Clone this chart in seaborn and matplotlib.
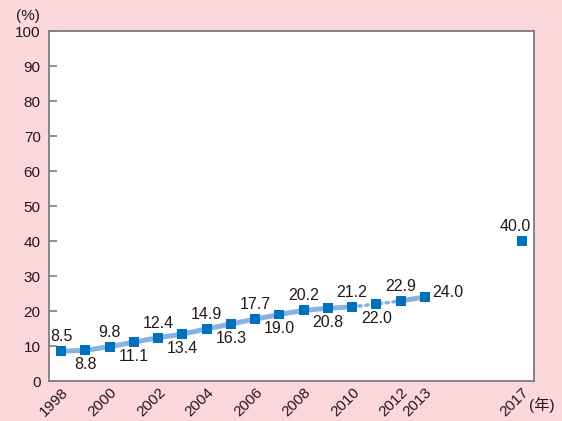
import matplotlib
matplotlib.use("Agg")
import matplotlib.pyplot as plt
import matplotlib.transforms as mtransforms
import seaborn as sns
import pandas as pd
import numpy as np

years = [1998, 1999, 2000, 2001, 2002, 2003, 2004, 2005, 2006, 2007,
         2008, 2009, 2010, 2011, 2012, 2013, 2017]
values = [8.5, 8.8, 9.8, 11.1, 12.4, 13.4, 14.9, 16.3, 17.7, 19.0,
          20.2, 20.8, 21.2, 22.0, 22.9, 24.0, 40.0]
# where each value label sits relative to its marker
label_side = ["above", "below", "above", "below", "above", "below", "above", "below",
              "above", "below", "above", "below", "above", "below", "above", "right", "aboveleft"]
tick_years = [1998, 2000, 2002, 2004, 2006, 2008, 2010, 2012, 2013, 2017]

df = pd.DataFrame({"year": years, "value": values})

sns.set_theme(style="white")
plt.rcParams["font.family"] = ["Liberation Sans", "Noto Sans CJK JP", "DejaVu Sans"]

pink = "#fcd8dd"
line_blue = "#86b3e3"
marker_blue = "#0071bc"
text_col = "#231815"
frame_col = "#7d7d7d"
fs_label = 11.5
fs_tick = 11

fig = plt.figure(figsize=(5.62, 4.21), dpi=100, facecolor=pink)
ax = fig.add_axes([0.0872, 0.095, 0.8630, 0.831])
ax.set_facecolor("white")

solid1 = df[(df.year >= 1998) & (df.year <= 2010)]
dotted = df[(df.year >= 2010) & (df.year <= 2012)]
solid2 = df[(df.year >= 2012) & (df.year <= 2013)]

sns.lineplot(data=solid1, x="year", y="value", ax=ax, color=line_blue, lw=3.6,
             solid_capstyle="round", zorder=2)
sns.lineplot(data=dotted, x="year", y="value", ax=ax, color=line_blue, lw=2.6,
             linestyle=(0, (0.6, 1.3)), dash_capstyle="round", zorder=2)
sns.lineplot(data=solid2, x="year", y="value", ax=ax, color=line_blue, lw=3.6,
             solid_capstyle="round", zorder=2)
sns.scatterplot(data=df, x="year", y="value", ax=ax, marker="s", s=50,
                color=marker_blue, edgecolor="none", linewidth=0, zorder=3)

offsets = {
    "above": ((0, 5), "center", "bottom"),
    "below": ((0, -5), "center", "top"),
    "right": ((5, 3), "left", "center"),
    "aboveleft": ((-5, 5), "center", "bottom"),
}
for yr, v, side in zip(years, values, label_side):
    off, ha, va = offsets[side]
    ax.annotate(f"{v:.1f}", (yr, v), xytext=off, textcoords="offset points",
                ha=ha, va=va, fontsize=fs_label, color=text_col)

ax.set_xlim(1997.5, 2017.5)
ax.set_ylim(0, 100)
ax.set_yticks(range(0, 101, 10))
ax.set_xticks(tick_years)
ax.set_xticklabels([str(y) for y in tick_years], rotation=45, ha="right",
                   rotation_mode="anchor", fontsize=fs_tick, color=text_col)
shift = mtransforms.ScaledTranslation(5 / 72, 0, fig.dpi_scale_trans)
for lbl in ax.get_xticklabels():
    lbl.set_transform(lbl.get_transform() + shift)
ax.set_xticks(np.arange(1998.5, 2017, 1.0), minor=True)
ax.tick_params(axis="x", which="major", length=0, pad=3)
ax.tick_params(axis="x", which="minor", direction="in", length=6, width=1.2,
               color=frame_col)
ax.tick_params(axis="y", direction="in", length=6, width=1.2, color=frame_col,
               labelsize=fs_tick, labelcolor=text_col, pad=6, left=True)
ax.set_xlabel("")
ax.set_ylabel("")
for sp in ax.spines.values():
    sp.set_visible(True)
    sp.set_color(frame_col)
    sp.set_linewidth(1.3)

fig.text(0.050, 0.963, "(%)", ha="center", va="center", fontsize=fs_tick, color=text_col)
fig.text(0.941, 0.038, "(年)", ha="left", va="center", fontsize=fs_tick, color=text_col)

fig.savefig("out.png", dpi=100, facecolor=pink)
